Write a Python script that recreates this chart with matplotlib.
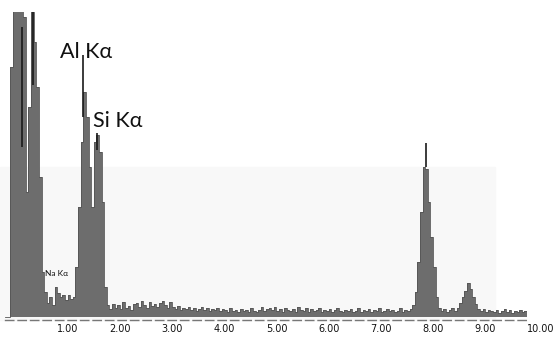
import numpy as np
import matplotlib
matplotlib.use('Agg')
import matplotlib.pyplot as plt
from matplotlib.patches import Rectangle

# EDS spectrum, 0.05 keV channels starting at 0 keV
channel_width = 0.05
counts = [
    0, 0, 250, 340, 340, 345, 340, 300, 125, 210,
    305, 275, 230, 140, 45, 25, 14, 20, 12, 30,
    24, 20, 22, 17, 22, 18, 20, 50, 110, 175,
    225, 200, 150, 110, 175, 182, 165, 115, 30, 12,
    8, 13, 9, 12, 8, 15, 9, 11, 7, 13,
    14, 10, 16, 12, 9, 15, 11, 13, 10, 14,
    16, 12, 9, 15, 10, 8, 11, 7, 9, 8,
    10, 7, 9, 6, 8, 10, 7, 9, 6, 8,
    7, 9, 6, 8, 7, 5, 9, 6, 7, 5,
    8, 6, 7, 5, 9, 6, 5, 7, 10, 6,
    8, 9, 7, 10, 6, 8, 5, 9, 7, 6,
    8, 5, 10, 7, 6, 9, 5, 8, 6, 7,
    9, 5, 7, 6, 8, 5, 7, 9, 6, 5,
    7, 6, 8, 5, 6, 9, 5, 7, 6, 8,
    5, 7, 6, 9, 5, 6, 8, 6, 7, 5,
    6, 9, 5, 7, 6, 8, 12, 25, 55, 105,
    150, 148, 115, 80, 50, 20, 9, 6, 8, 5,
    7, 9, 6, 9, 14, 20, 26, 34, 28, 20,
    13, 8, 6, 8, 5, 7, 6, 5, 7, 4,
    6, 8, 5, 7, 4, 6, 5, 7, 5, 6,
]

# peak marker lines (energy, low, high)
marker_e = [0.33, 0.54, 1.494, 1.76, 8.065]
marker_lo = [170, 232, 200, 167, 150]
marker_hi = [290, 305, 262, 184, 174]

# peak labels
label_text = ['Al K\u03b1', 'Si K\u03b1', 'Na K\u03b1']
label_e = [1.05, 1.68, 0.77]
label_y = [259, 190, 41]
label_size = [15.5, 15.5, 6]

tick_e = [1, 2, 3, 4, 5, 6, 7, 8, 9, 10]
tick_labels = ['1.00', '2.00', '3.00', '4.00', '5.00', '6.00', '7.00', '8.00', '9.00', '10.00']

edges = np.arange(len(counts) + 1) * channel_width
y = np.append(counts, counts[-1])

fig = plt.figure(figsize=(5.53, 3.38), dpi=100)
# faint grey panel behind the lower part of the spectrum
fig.patches.append(Rectangle((0, 0.0533), 495 / 553, (338 - 167) / 338 - 0.0533,
                             transform=fig.transFigure, color='#f8f8f8', zorder=-5))
ax = fig.add_axes([5 / 553, 18 / 338, 522 / 553, 308 / 338])
ax.patch.set_alpha(0)

ax.fill_between(edges, 0, y, step='post', color='#6d6d6d', lw=0)
ax.step(edges, y, where='post', color='#555555', lw=0.6)
ax.vlines(marker_e, marker_lo, marker_hi, color='#1a1a1a', lw=1.2)

for t, e, v, s in zip(label_text, label_e, label_y, label_size):
    ax.text(e, v, t, fontsize=s, fontfamily='Lato',
            ha='left', va='baseline', color='#111111')

ax.set_xlim(0, 10)
ax.set_ylim(-3, 305)
ax.set_xticks(tick_e)
ax.set_xticklabels(tick_labels, fontsize=7, ha='left', color='#111111')
ax.tick_params(axis='x', length=0, pad=3)
ax.set_yticks([])
for side in ['top', 'right', 'left']:
    ax.spines[side].set_visible(False)
ax.spines['bottom'].set_color('#777777')
ax.spines['bottom'].set_linestyle((0, (6, 3)))
ax.spines['bottom'].set_linewidth(1.0)

plt.savefig('out.png', dpi=100)
